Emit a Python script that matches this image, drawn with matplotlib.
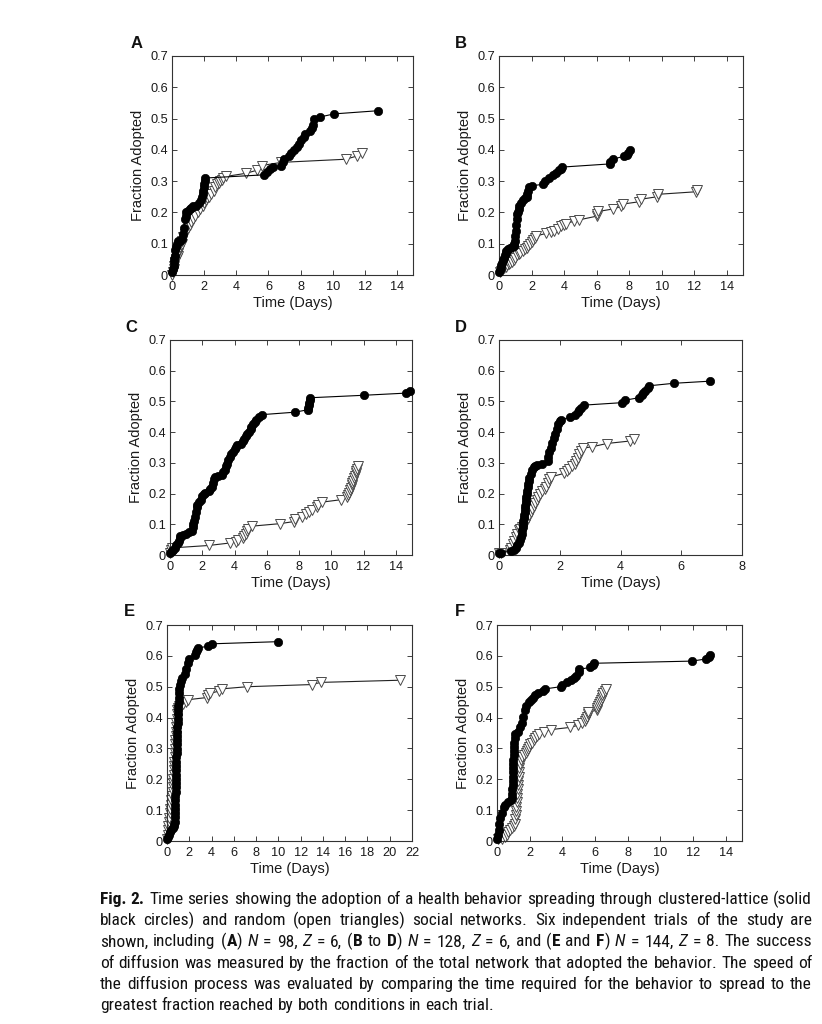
import re
import numpy as np
import matplotlib
matplotlib.use("Agg")
import matplotlib.pyplot as plt
from matplotlib import font_manager as fm

plt.rcParams['font.family'] = ['Liberation Sans', 'DejaVu Sans']

# ---------------- data (time in days, fraction adopted) ----------------
A_lattice = [(0, 0.01), (0.05, 0.02), (0.1, 0.03), (0.12, 0.04), (0.15, 0.05), (0.18, 0.06),
             (0.2, 0.08), (0.25, 0.09), (0.3, 0.10), (0.4, 0.11), (0.5, 0.11), (0.6, 0.115),
             (0.7, 0.13), (0.75, 0.15), (0.8, 0.18), (0.85, 0.19), (0.9, 0.20), (1.0, 0.205),
             (1.1, 0.21), (1.2, 0.215), (1.3, 0.22), (1.5, 0.22), (1.7, 0.23), (1.8, 0.24),
             (1.85, 0.25), (1.9, 0.26), (1.95, 0.27), (2.0, 0.28), (2.02, 0.29), (2.05, 0.30),
             (2.08, 0.31), (5.7, 0.32), (5.9, 0.33), (6.1, 0.34), (6.3, 0.345), (6.8, 0.35),
             (6.9, 0.36), (7.0, 0.37), (7.3, 0.38), (7.4, 0.39), (7.6, 0.40), (7.8, 0.41),
             (7.9, 0.42), (8.0, 0.43), (8.2, 0.44), (8.3, 0.45), (8.6, 0.46), (8.7, 0.47),
             (8.8, 0.48), (8.85, 0.50), (9.2, 0.505), (10.1, 0.515), (12.8, 0.525)]
A_random = [(0.02, 0.0), (0.05, 0.01), (0.1, 0.02), (0.15, 0.03), (0.2, 0.04), (0.25, 0.05),
            (0.3, 0.055), (0.35, 0.06), (0.4, 0.07), (0.45, 0.08), (0.5, 0.09), (0.55, 0.095),
            (0.6, 0.10), (0.65, 0.11), (0.7, 0.12), (0.8, 0.13), (0.9, 0.14), (1.0, 0.15),
            (1.1, 0.16), (1.2, 0.17), (1.3, 0.18), (1.45, 0.19), (1.6, 0.20), (1.75, 0.21),
            (1.9, 0.22), (2.0, 0.23), (2.1, 0.24), (2.2, 0.245), (2.3, 0.25), (2.45, 0.26),
            (2.6, 0.27), (2.7, 0.28), (2.8, 0.29), (2.9, 0.295), (3.0, 0.30), (3.1, 0.305),
            (3.2, 0.31), (3.35, 0.315), (4.6, 0.325), (5.3, 0.335), (5.6, 0.35), (6.8, 0.36),
            (10.8, 0.37), (11.5, 0.38), (11.8, 0.39)]

B_lattice = [(0, 0.008), (0.05, 0.016), (0.1, 0.023), (0.15, 0.031), (0.2, 0.039), (0.25, 0.047),
             (0.3, 0.055), (0.35, 0.063), (0.4, 0.07), (0.45, 0.078), (0.55, 0.082), (0.7, 0.086),
             (0.8, 0.09), (0.9, 0.094), (0.95, 0.10), (0.98, 0.11), (1.0, 0.125), (1.02, 0.14),
             (1.05, 0.16), (1.08, 0.18), (1.1, 0.195), (1.15, 0.2), (1.2, 0.21), (1.25, 0.22),
             (1.35, 0.23), (1.45, 0.24), (1.6, 0.245), (1.7, 0.25), (1.75, 0.26), (1.8, 0.27),
             (1.85, 0.28), (2.0, 0.285), (2.7, 0.29), (2.8, 0.30), (3.1, 0.31), (3.3, 0.32),
             (3.5, 0.325), (3.7, 0.335), (3.8, 0.34), (3.9, 0.345), (6.8, 0.355), (6.85, 0.36),
             (7.0, 0.37), (7.7, 0.38), (7.85, 0.385), (7.95, 0.39), (8.05, 0.40)]
B_random = [(0.05, 0.008), (0.1, 0.012), (0.2, 0.016), (0.3, 0.023), (0.4, 0.027), (0.5, 0.031),
            (0.6, 0.035), (0.7, 0.039), (0.8, 0.043), (0.9, 0.047), (1.0, 0.055), (1.1, 0.063),
            (1.2, 0.066), (1.3, 0.07), (1.5, 0.078), (1.6, 0.082), (1.7, 0.086), (1.8, 0.094),
            (1.9, 0.10), (2.0, 0.105), (2.1, 0.113), (2.2, 0.117), (2.3, 0.125), (2.9, 0.133),
            (3.2, 0.137), (3.4, 0.141), (3.6, 0.148), (3.8, 0.156), (4.0, 0.16), (4.1, 0.164),
            (4.6, 0.172), (4.9, 0.176), (6.0, 0.188), (6.05, 0.195), (6.1, 0.203), (7.0, 0.211),
            (7.5, 0.219), (7.65, 0.227), (8.6, 0.234), (8.7, 0.242), (9.7, 0.25), (9.8, 0.258),
            (12.1, 0.266), (12.15, 0.273)]

C_lattice = [(0, 0.008), (0.1, 0.012), (0.2, 0.016), (0.3, 0.023), (0.4, 0.031), (0.5, 0.039),
             (0.55, 0.047), (0.6, 0.055), (0.65, 0.063), (0.8, 0.066), (1.0, 0.07), (1.2, 0.074),
             (1.35, 0.078), (1.4, 0.09), (1.45, 0.10), (1.5, 0.11), (1.55, 0.125), (1.6, 0.14),
             (1.65, 0.156), (1.7, 0.164), (1.8, 0.172), (1.9, 0.18), (2.0, 0.191), (2.1, 0.199),
             (2.2, 0.203), (2.4, 0.207), (2.5, 0.215), (2.6, 0.223), (2.65, 0.234), (2.7, 0.246),
             (2.8, 0.254), (3.0, 0.258), (3.2, 0.262), (3.3, 0.27), (3.4, 0.277), (3.5, 0.289),
             (3.55, 0.297), (3.6, 0.309), (3.7, 0.32), (3.8, 0.328), (3.9, 0.336), (4.0, 0.344),
             (4.1, 0.352), (4.15, 0.359), (4.4, 0.363), (4.5, 0.371), (4.6, 0.379), (4.7, 0.387),
             (4.8, 0.395), (4.9, 0.402), (5.0, 0.41), (5.05, 0.418), (5.15, 0.426), (5.25, 0.434),
             (5.35, 0.441), (5.5, 0.449), (5.7, 0.457), (7.75, 0.465), (8.55, 0.473), (8.58, 0.48),
             (8.6, 0.488), (8.62, 0.496), (8.65, 0.504), (8.7, 0.512), (12.0, 0.52), (14.6, 0.527),
             (14.9, 0.535)]
C_random = [(0, 0.008), (0.05, 0.016), (0.1, 0.023), (2.4, 0.031), (3.7, 0.039), (4.1, 0.043),
            (4.2, 0.05), (4.5, 0.055), (4.6, 0.063), (4.7, 0.07), (4.75, 0.078), (4.85, 0.086),
            (5.1, 0.094), (6.8, 0.102), (7.7, 0.109), (7.75, 0.117), (8.2, 0.125), (8.4, 0.133),
            (8.6, 0.141), (8.8, 0.148), (9.1, 0.156), (9.2, 0.164), (9.4, 0.172), (10.6, 0.18),
            (11.0, 0.188), (11.05, 0.195), (11.1, 0.203), (11.15, 0.211), (11.2, 0.219),
            (11.25, 0.227), (11.3, 0.234), (11.35, 0.242), (11.4, 0.25), (11.45, 0.258),
            (11.5, 0.266), (11.55, 0.273), (11.6, 0.281), (11.65, 0.289)]

D_lattice = [(0, 0.008), (0.05, 0.008), (0.4, 0.012), (0.5, 0.016), (0.55, 0.023), (0.6, 0.031),
             (0.65, 0.039), (0.7, 0.05), (0.73, 0.06), (0.75, 0.07), (0.77, 0.08), (0.78, 0.09),
             (0.79, 0.10), (0.8, 0.11), (0.82, 0.12), (0.83, 0.13), (0.85, 0.14), (0.86, 0.15),
             (0.87, 0.16), (0.88, 0.17), (0.89, 0.18), (0.9, 0.19), (0.92, 0.20), (0.93, 0.21),
             (0.95, 0.22), (0.96, 0.23), (0.98, 0.24), (1.0, 0.25), (1.05, 0.265), (1.1, 0.277),
             (1.15, 0.285), (1.2, 0.289), (1.25, 0.293), (1.4, 0.297), (1.6, 0.305), (1.62, 0.32),
             (1.65, 0.335), (1.7, 0.35), (1.75, 0.365), (1.8, 0.38), (1.85, 0.395), (1.9, 0.41),
             (1.95, 0.425), (2.0, 0.437), (2.05, 0.441), (2.35, 0.449), (2.5, 0.457), (2.6, 0.465),
             (2.65, 0.473), (2.7, 0.48), (2.8, 0.488), (4.05, 0.496), (4.15, 0.504), (4.6, 0.512),
             (4.7, 0.52), (4.75, 0.527), (4.8, 0.535), (4.9, 0.543), (4.95, 0.551), (5.75, 0.559),
             (6.95, 0.566)]
D_random = [(0, 0.008), (0.05, 0.008), (0.35, 0.016), (0.4, 0.023), (0.45, 0.035), (0.5, 0.047),
            (0.55, 0.06), (0.6, 0.07), (0.65, 0.08), (0.7, 0.086), (0.75, 0.09), (0.85, 0.10),
            (0.9, 0.11), (0.95, 0.12), (1.0, 0.13), (1.05, 0.14), (1.1, 0.15), (1.15, 0.16),
            (1.2, 0.17), (1.25, 0.18), (1.3, 0.19), (1.35, 0.20), (1.4, 0.207), (1.5, 0.215),
            (1.55, 0.223), (1.6, 0.234), (1.65, 0.246), (1.7, 0.254), (2.15, 0.266), (2.25, 0.273),
            (2.3, 0.281), (2.4, 0.289), (2.5, 0.297), (2.55, 0.305), (2.6, 0.316), (2.65, 0.328),
            (2.7, 0.34), (2.75, 0.348), (3.05, 0.352), (3.55, 0.363), (4.3, 0.371), (4.45, 0.379)]

E_lattice = [(0, 0.007), (0.1, 0.014), (0.2, 0.021), (0.3, 0.028), (0.4, 0.035), (0.5, 0.042),
             (0.6, 0.049), (0.65, 0.056), (0.70, 0.063), (0.71, 0.077), (0.72, 0.091), (0.73, 0.105),
             (0.74, 0.118), (0.75, 0.132), (0.76, 0.146), (0.77, 0.16), (0.78, 0.174), (0.79, 0.188),
             (0.80, 0.201), (0.81, 0.215), (0.82, 0.229), (0.83, 0.243), (0.84, 0.257), (0.85, 0.271),
             (0.86, 0.285), (0.87, 0.299), (0.88, 0.313), (0.89, 0.326), (0.90, 0.34), (0.91, 0.354),
             (0.93, 0.368), (0.95, 0.382), (0.97, 0.396), (0.99, 0.41), (1.01, 0.424), (1.03, 0.438),
             (1.05, 0.451), (1.07, 0.465), (1.09, 0.479), (1.12, 0.493), (1.16, 0.507), (1.22, 0.52),
             (1.35, 0.528), (1.6, 0.54), (1.75, 0.556), (1.85, 0.576), (1.95, 0.59), (2.5, 0.604),
             (2.6, 0.611), (2.7, 0.618), (2.8, 0.625), (3.7, 0.632), (4.0, 0.639), (10.0, 0.646)]
E_random = [(0.02, 0.007), (0.05, 0.021), (0.08, 0.035), (0.12, 0.049), (0.15, 0.063), (0.2, 0.076),
            (0.25, 0.09), (0.3, 0.104), (0.35, 0.118), (0.4, 0.132), (0.45, 0.146), (0.5, 0.16),
            (0.53, 0.174), (0.56, 0.188), (0.58, 0.201), (0.6, 0.215), (0.62, 0.229), (0.64, 0.243),
            (0.66, 0.257), (0.68, 0.271), (0.7, 0.285), (0.72, 0.299), (0.74, 0.313), (0.76, 0.326),
            (0.78, 0.34), (0.8, 0.354), (0.82, 0.368), (0.84, 0.382), (0.86, 0.396), (0.88, 0.41),
            (0.9, 0.424), (0.95, 0.431), (1.1, 0.438), (1.4, 0.444), (1.7, 0.451), (1.9, 0.458),
            (3.6, 0.465), (3.7, 0.472), (3.9, 0.479), (4.7, 0.486), (4.9, 0.493), (7.2, 0.50),
            (13.0, 0.507), (13.8, 0.514), (20.9, 0.521)]

F_lattice = [(0, 0.007), (0.05, 0.021), (0.1, 0.035), (0.15, 0.056), (0.2, 0.076), (0.3, 0.09),
             (0.4, 0.111), (0.5, 0.118), (0.7, 0.125), (0.85, 0.132), (0.9, 0.139), (0.92, 0.153),
             (0.94, 0.167), (0.95, 0.181), (0.96, 0.194), (0.97, 0.208), (0.98, 0.222), (0.99, 0.236),
             (1.0, 0.25), (1.01, 0.264), (1.02, 0.278), (1.03, 0.292), (1.05, 0.306), (1.06, 0.319),
             (1.08, 0.333), (1.1, 0.347), (1.3, 0.354), (1.4, 0.368), (1.5, 0.382), (1.6, 0.403),
             (1.7, 0.424), (1.8, 0.438), (1.95, 0.451), (2.1, 0.458), (2.2, 0.465), (2.35, 0.472),
             (2.5, 0.479), (2.8, 0.486), (2.95, 0.493), (3.9, 0.50), (4.0, 0.507), (4.3, 0.514),
             (4.5, 0.521), (4.7, 0.528), (4.85, 0.535), (5.0, 0.549), (5.05, 0.556), (5.7, 0.563),
             (5.85, 0.57), (5.95, 0.576), (11.95, 0.583), (12.8, 0.59), (12.95, 0.597), (13.05, 0.604)]
F_random = [(0.05, 0.007), (0.3, 0.007), (0.5, 0.014), (0.6, 0.021), (0.7, 0.028), (0.8, 0.035),
            (0.9, 0.042), (1.05, 0.049), (1.1, 0.056), (1.12, 0.07), (1.14, 0.083), (1.16, 0.097),
            (1.18, 0.111), (1.2, 0.125), (1.22, 0.139), (1.24, 0.153), (1.26, 0.167), (1.28, 0.181),
            (1.3, 0.194), (1.32, 0.208), (1.34, 0.222), (1.36, 0.236), (1.4, 0.25), (1.45, 0.264),
            (1.55, 0.271), (1.65, 0.278), (1.75, 0.285), (1.85, 0.292), (1.9, 0.299), (1.95, 0.306),
            (2.05, 0.313), (2.15, 0.319), (2.25, 0.326), (2.35, 0.333), (2.45, 0.34), (2.6, 0.347),
            (2.85, 0.354), (3.3, 0.361), (4.45, 0.368), (4.95, 0.375), (5.2, 0.382), (5.4, 0.389),
            (5.45, 0.396), (5.5, 0.403), (5.55, 0.41), (5.6, 0.417), (6.1, 0.424), (6.15, 0.431),
            (6.2, 0.438), (6.25, 0.444), (6.3, 0.451), (6.35, 0.458), (6.4, 0.465), (6.45, 0.472),
            (6.5, 0.479), (6.6, 0.486), (6.7, 0.493)]

panel_letters = ['A', 'B', 'C', 'D', 'E', 'F']
x_max = [15, 15, 15, 8, 22, 15]
x_ticks_15 = [0, 2, 4, 6, 8, 10, 12, 14]
x_ticks_8 = [0, 2, 4, 6, 8]
x_ticks_22 = [0, 2, 4, 6, 8, 10, 12, 14, 16, 18, 20, 22]
y_ticks = [0, 0.1, 0.2, 0.3, 0.4, 0.5, 0.6, 0.7]
y_ticklabels = ['0', '0.1', '0.2', '0.3', '0.4', '0.5', '0.6', '0.7']
x_label = 'Time (Days)'
y_label = 'Fraction Adopted'

caption_lines = [
    "**Fig. 2.** Time series showing the adoption of a health behavior spreading through clustered-lattice (solid",
    "black circles) and random (open triangles) social networks. Six independent trials of the study are",
    "shown, including (**A**) _N_ = 98, _Z_ = 6, (**B** to **D**) _N_ = 128, _Z_ = 6, and (**E** and **F**) _N_ = 144, _Z_ = 8. The success",
    "of diffusion was measured by the fraction of the total network that adopted the behavior. The speed of",
    "the diffusion process was evaluated by comparing the time required for the behavior to spread to the",
    "greatest fraction reached by both conditions in each trial.",
]

# ---------------- figure ----------------
W, H = 822, 1024
fig = plt.figure(figsize=(W / 100, H / 100), dpi=100)

# axes rectangles in pixels: left, top, right, bottom
rects_px = [(172, 56, 413, 275), (499, 56, 743, 275),
            (170, 340, 412, 555), (499, 340, 742, 555),
            (167, 625, 412, 841), (497, 625, 742, 841)]
letter_px = [(137, 43), (461, 43), (131, 327), (461, 327), (129, 612), (460, 612)]
xticks_sets = [x_ticks_15, x_ticks_15, x_ticks_15, x_ticks_8, x_ticks_22, x_ticks_15]
series = [(A_lattice, A_random), (B_lattice, B_random), (C_lattice, C_random),
          (D_lattice, D_random), (E_lattice, E_random), (F_lattice, F_random)]

for i in range(6):
    l, t, r, b = rects_px[i]
    ax = fig.add_axes([l / W, 1 - b / H, (r - l) / W, (b - t) / H])
    lat, rnd = series[i]
    xr, yr = zip(*rnd)
    xl, yl = zip(*lat)
    ax.plot(xr, yr, '-', color='#222222', lw=0.8, marker='v', ms=6.8,
            mfc='white', mec='#4a4a4a', mew=0.7, zorder=2, clip_on=False)
    ax.plot(xl, yl, '-', color='black', lw=0.8, marker='o', ms=6.0,
            mfc='black', mec='black', mew=0.5, zorder=3, clip_on=False)
    ax.set_xlim(0, x_max[i])
    ax.set_ylim(0, 0.7)
    ax.set_xticks(xticks_sets[i])
    ax.set_xticklabels([str(v) for v in xticks_sets[i]])
    ax.set_yticks(y_ticks)
    ax.set_yticklabels(y_ticklabels)
    ax.tick_params(direction='in', top=True, right=True, length=3.5, width=0.6,
                   labelsize=9.2, pad=3, colors='#222222', labelcolor='#1a1a1a')
    ax.tick_params(axis='x', pad=4)
    for sp in ax.spines.values():
        sp.set_linewidth(0.8)
        sp.set_color('#333333')
    ax.set_xlabel(x_label, fontsize=10.5, labelpad=2.5, color='#1a1a1a')
    ax.set_ylabel(y_label, fontsize=10.5, labelpad=4, color='#1a1a1a')
    lx, ly = letter_px[i]
    fig.text(lx / W, 1 - ly / H, panel_letters[i], fontsize=12, fontweight='bold',
             ha='center', va='center', color='#111111')

# ---------------- caption ----------------
def pick_condensed():
    names = {}
    for f in fm.fontManager.ttflist:
        names.setdefault(f.name, set()).add(str(f.stretch))
    for cand in ['Liberation Sans Narrow', 'Roboto Condensed', 'Open Sans Condensed',
                 'Noto Sans Condensed', 'DejaVu Sans Condensed']:
        if cand in names:
            return cand, 'normal'
    for nm in ['DejaVu Sans', 'Noto Sans', 'Roboto', 'Open Sans']:
        if nm in names and ('condensed' in names[nm] or 'semi-condensed' in names[nm]):
            return nm, 'condensed'
    return 'Liberation Sans', 'normal'

cap_family, cap_stretch = pick_condensed()

def parse(line):
    segs = []
    pos = 0
    for m in re.finditer(r'\*\*(.+?)\*\*|_(.+?)_', line):
        if m.start() > pos:
            segs.append((line[pos:m.start()], 'n'))
        if m.group(1) is not None:
            segs.append((m.group(1), 'b'))
        else:
            segs.append((m.group(2), 'i'))
        pos = m.end()
    if pos < len(line):
        segs.append((line[pos:], 'n'))
    words = [[]]
    for txt, st in segs:
        parts = txt.split(' ')
        for k, p in enumerate(parts):
            if k > 0:
                words.append([])
            if p:
                words[-1].append((p, st))
    return [w for w in words if w]

def kw(st, fs):
    d = dict(fontsize=fs, family=[cap_family, 'DejaVu Sans'], fontstretch=cap_stretch,
             color='#111111')
    if st == 'b':
        d['fontweight'] = 'bold'
    if st == 'i':
        d['fontstyle'] = 'italic'
    return d

renderer = fig.canvas.get_renderer()

def width(txt, st, fs):
    t = fig.text(0, 0, txt, **kw(st, fs))
    w = t.get_window_extent(renderer).width
    t.remove()
    return w

def word_width(w, fs):
    return sum(width(txt, st, fs) for txt, st in w)

x0, x1 = 100, 812
base_fs = 10.0
parsed = [parse(l) for l in caption_lines]
sp0 = width('a a', 'n', base_fs) - width('aa', 'n', base_fs)
nat = []
for w in parsed[:-1]:
    nat.append(sum(word_width(x, base_fs) for x in w) + sp0 * (len(w) - 1))
fs = min(12.5, base_fs * (x1 - x0) * 0.99 / max(nat))
space = width('a a', 'n', fs) - width('aa', 'n', fs)

for li, words in enumerate(parsed):
    y = 904 + 21.2 * li
    widths = [word_width(w, fs) for w in words]
    if li < len(parsed) - 1:
        gap = (x1 - x0 - sum(widths)) / (len(words) - 1)
    else:
        gap = space
    x = x0
    for w, wd in zip(words, widths):
        xx = x
        for txt, st in w:
            fig.text(xx / W, 1 - y / H, txt, ha='left', va='baseline', **kw(st, fs))
            xx += width(txt, st, fs)
        x += wd + gap

fig.savefig('out.png', dpi=100)
